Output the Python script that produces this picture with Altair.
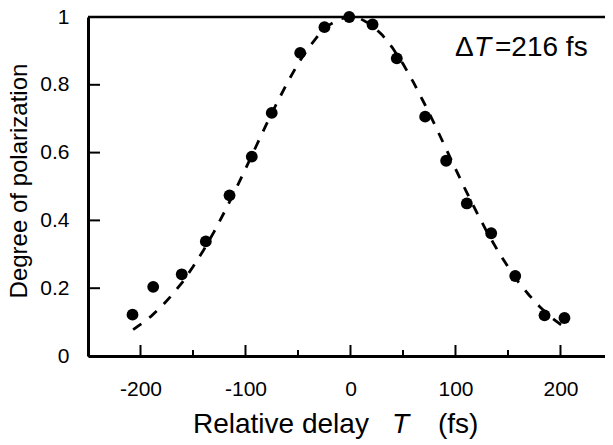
import altair as alt
import pandas as pd

# Measured points
delay_fs = [-207.6, -187.9, -160.7, -137.8, -115.2, -94.0, -75.0, -47.9, -24.8, -1.2,
            21.0, 44.1, 71.1, 91.1, 110.8, 134.0, 156.9, 184.8, 203.8]
polarization = [0.122, 0.204, 0.241, 0.338, 0.474, 0.588, 0.717, 0.894, 0.970, 1.000,
                0.978, 0.878, 0.706, 0.576, 0.450, 0.362, 0.236, 0.120, 0.112]

# Dashed fitted curve
curve_x = [-207, -200, -190, -180, -170, -160, -150, -140, -130, -120, -110, -100, -90, -80,
           -70, -60, -50, -40, -30, -20, -10, 0, 10, 20, 30, 40, 50, 60, 70, 80, 90, 100,
           110, 120, 130, 140, 150, 160, 170, 180, 190, 200, 207]
curve_y = [0.078, 0.093, 0.117, 0.146, 0.180, 0.218, 0.263, 0.312, 0.366, 0.425, 0.487,
           0.552, 0.618, 0.684, 0.747, 0.807, 0.862, 0.909, 0.948, 0.977, 0.994, 1.000,
           0.994, 0.977, 0.948, 0.909, 0.862, 0.807, 0.747, 0.684, 0.618, 0.552, 0.487,
           0.425, 0.366, 0.312, 0.263, 0.218, 0.180, 0.146, 0.117, 0.093, 0.078]

x_major = [-200, -100, 0, 100, 200]
x_minor = [-150, -50, 50, 150]
y_major = [0, 0.2, 0.4, 0.6, 0.8, 1]

W, H = 517, 339
FONT = "Liberation Sans"

xs = alt.Scale(domain=[-250, 242.4], nice=False)
ys = alt.Scale(domain=[0, 1], nice=False)

pts = pd.DataFrame({"x": delay_fs, "y": polarization})
crv = pd.DataFrame({"x": curve_x, "y": curve_y})

xaxis = alt.Axis(values=x_major, ticks=False, grid=False, domainColor="black", domainWidth=3,
                 labelFontSize=21, labelFont=FONT, labelColor="black", labelPadding=22,
                 labelExpr="datum.value", title=None)
yaxis = alt.Axis(values=y_major, ticks=False, grid=False, domainColor="black", domainWidth=3,
                 labelFontSize=21, labelFont=FONT, labelColor="black", labelPadding=19,
                 labelExpr="datum.value == 0 || datum.value == 1 ? format(datum.value, 'd') : format(datum.value, '.1f')",
                 title=None)

curve = alt.Chart(crv).mark_line(color="black", strokeWidth=2.8, strokeDash=[10, 10]).encode(
    x=alt.X("x:Q", scale=xs, axis=xaxis),
    y=alt.Y("y:Q", scale=ys, axis=yaxis),
)
points = alt.Chart(pts).mark_circle(color="black", opacity=1, size=140).encode(
    x=alt.X("x:Q", scale=xs), y=alt.Y("y:Q", scale=ys)
)

xmaj = alt.Chart(pd.DataFrame({"x": x_major})).mark_rule(color="black", strokeWidth=2).encode(
    x=alt.X("x:Q", scale=xs), y=alt.value(H), y2=alt.value(H - 11))
xmin = alt.Chart(pd.DataFrame({"x": x_minor})).mark_rule(color="black", strokeWidth=2).encode(
    x=alt.X("x:Q", scale=xs), y=alt.value(H), y2=alt.value(H - 6))
ymaj = alt.Chart(pd.DataFrame({"y": y_major})).mark_rule(color="black", strokeWidth=2).encode(
    y=alt.Y("y:Q", scale=ys), x=alt.value(0), x2=alt.value(12))

top = alt.Chart(pd.DataFrame({"a": [0]})).mark_rule(color="black", strokeWidth=2.5).encode(
    x=alt.value(0), x2=alt.value(W), y=alt.value(0))

def txt(s, x, y, size=28, style="normal", angle=0, align="left", baseline="alphabetic"):
    return alt.Chart(pd.DataFrame({"t": [s]})).mark_text(
        font=FONT, fontSize=size, fontStyle=style, color="black", angle=angle,
        align=align, baseline=baseline).encode(
        text="t:N", x=alt.value(x), y=alt.value(y))

labels = [
    txt("Relative delay", 105, 416),
    txt("T", 304, 416, style="italic"),
    txt("(fs)", 350, 416),
    txt("Δ", 367, 39),
    txt("T", 386, 39, style="italic"),
    txt("=216 fs", 407, 39),
    txt("Degree of polarization", -68, 164, size=24, angle=270, align="center", baseline="middle"),
]

chart = alt.layer(top, curve, points, xmaj, xmin, ymaj, *labels).properties(
    width=W, height=H,
    padding={"left": 80, "top": 9, "right": 0, "bottom": 88},
    autosize=alt.AutoSizeParams(type="none"),
).configure_view(stroke=None).configure(background="white")

chart.save("out.html", embed_options={"renderer": "svg", "actions": False})
